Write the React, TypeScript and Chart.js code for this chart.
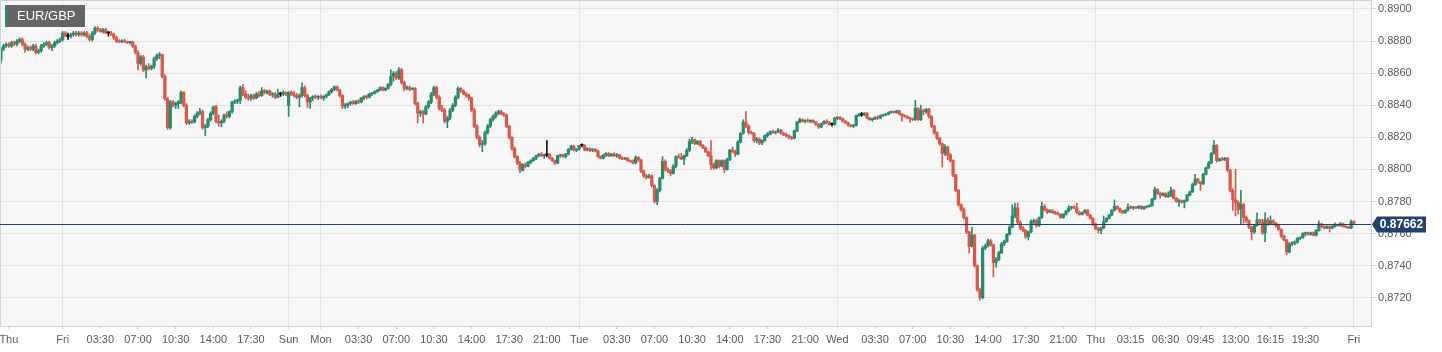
import React, { useEffect, useRef } from "react";
import { Chart, registerables } from "chart.js";

Chart.register(...registerables);

// Candles are 15-minute EUR/GBP bars, values in pips (price x 10000): [open, high, low, close]
type Ohlc = [number, number, number, number];
const PIP = 10000;

const thuFri: Ohlc[] = [
  [8868,8876,8866,8875],[8875,8878,8874,8877],[8877,8879,8876,8878],[8878,8879,8876,8877],[8877,8880,8876,8879],
  [8879,8880,8877,8878],[8878,8881,8877,8880],[8880,8882,8879,8881],[8881,8882,8877,8878],[8878,8879,8873,8875],
  [8875,8877,8874,8876],[8876,8877,8874,8875],[8875,8878,8874,8877],[8877,8878,8872,8873],[8873,8875,8872,8874],
  [8874,8878,8873,8877],[8877,8879,8876,8878],[8878,8880,8877,8879],[8879,8880,8875,8876],[8876,8878,8874,8877],
  [8877,8880,8876,8879],[8879,8881,8878,8880],[8880,8882,8879,8881],[8881,8886,8880,8885],[8885,8886,8883,8883],
  [8883,8885,8881,8883],[8883,8885,8882,8884],[8884,8886,8883,8885],[8885,8886,8883,8884],[8884,8886,8883,8885],
  [8885,8886,8883,8884],[8884,8886,8883,8885],[8885,8886,8882,8883],[8883,8884,8880,8881],[8881,8886,8880,8885],
  [8885,8889,8884,8888],[8888,8889,8886,8887],[8887,8888,8885.5,8886],[8886,8888,8885,8887],[8887,8888,8884.5,8885],
  [8885,8886,8883,8885],[8885,8886,8883.5,8884],[8884,8885,8881,8882],[8882,8883,8879,8880],[8880,8881,8879,8879.5],
  [8879.5,8881,8879,8880],[8880,8881,8879,8879.5],[8879.5,8880,8878.5,8879],[8879,8880,8878,8879.5],[8879.5,8880,8876,8877],
  [8877,8877.5,8872,8873],[8873,8874,8862,8866],[8866,8871,8865,8870],[8870,8871,8861,8862],[8862,8865,8857,8864],
  [8864,8866,8862,8863],[8863,8865,8862,8864.5],[8864.5,8870,8863,8869],[8869,8872,8868,8871],[8871,8873,8869,8871.5],
  [8871.5,8872,8857,8858],[8858,8859,8843,8844],[8844,8845,8825,8826],[8826,8843,8825,8842],[8842,8843,8839,8840],
  [8840,8842,8838,8841],[8841,8843,8838,8842],[8842,8849,8841,8848],[8848,8848.5,8839,8840],[8840,8841,8828,8829],
  [8829,8831,8828,8830],[8830,8831,8828.5,8829.5],[8829.5,8834,8829,8833],[8833,8836,8832,8835],[8835,8838,8834,8836],
  [8836,8837,8825,8826],[8826,8828,8821,8827],[8827,8832,8826,8831],[8831,8836,8830,8835],[8835,8839.5,8834,8839],
  [8839,8840,8829,8830],[8830,8834,8827,8829],[8829,8831,8826.5,8830],[8830,8834.5,8829,8834],[8834,8836,8832,8833],
  [8833,8836.5,8832,8836],[8836,8842.5,8835,8842],[8842,8843.5,8841,8842.5],[8842.5,8844,8841,8843],[8843,8852,8841,8851],
  [8851,8853,8846,8847],[8847,8849,8844,8845],[8845,8847,8843,8844.5],[8844.5,8847,8843,8846],[8846,8847,8843.5,8844.5],
  [8844.5,8848,8844,8847],[8847,8848.5,8845,8846],[8846,8851,8845.5,8849],[8849,8850,8847,8848],[8848,8849.5,8847,8849],
  [8849,8849.5,8846,8846.5],[8846.5,8848,8845,8847],[8847,8848,8844,8845],[8845,8850,8844.5,8847],[8847,8848,8845.5,8847],
  [8847,8849,8846,8848],[8848,8848.5,8846,8847],
];

const sunMon: Ohlc[] = [
  [8840,8848.5,8833,8848],[8848,8849,8846,8847],[8847,8848.5,8845,8846],[8846,8847.5,8844,8845],[8845,8847,8839,8846],
  [8846,8854,8845,8851],[8851,8852,8845,8846],[8846,8847,8838.5,8842],[8842,8845,8838,8844.5],[8844.5,8846,8843,8845.5],
  [8845.5,8846.5,8844,8845],[8845,8846,8843.5,8845.5],[8845.5,8846.5,8844,8844.5],[8844.5,8846,8843,8845.5],[8845.5,8847,8844.5,8846.5],
  [8846.5,8849,8846,8848.5],[8848.5,8850.5,8847.5,8850],[8850,8852,8849,8851.5],[8851.5,8852,8849,8849.5],[8849.5,8850,8845,8846],
  [8846,8846.5,8838,8839.5],[8839.5,8841,8838,8840],[8840,8841.5,8838.5,8841],[8841,8842.5,8840,8842],[8842,8843,8840.5,8841],
  [8841,8843,8840.5,8842.5],[8842.5,8843.5,8841,8842],[8842,8845,8841.5,8844.5],[8844.5,8846,8843.5,8845.5],[8845.5,8846.5,8844,8845],
  [8845,8847.5,8844.5,8847],[8847,8848,8846,8847.5],[8847.5,8849,8847,8848.5],[8848.5,8850,8848,8849.5],[8849.5,8851.5,8849,8851],
  [8851,8851.5,8849,8849.5],[8849.5,8851,8849,8850.5],[8850.5,8853.5,8850,8853],[8853,8862,8852,8858],[8858,8861,8855,8860],
  [8860,8861,8856,8857],[8857,8863.5,8856,8862],[8862,8863,8853,8854],[8854,8855,8849,8850.5],[8850.5,8852,8849.5,8851],
  [8851,8852,8849,8850],[8850,8851,8849.5,8850.5],[8850.5,8851,8840,8841],[8841,8842,8829,8835],[8835,8837,8833,8836],
  [8836,8837,8829,8834.5],[8834.5,8840,8834,8839],[8839,8843,8838,8842],[8842,8848,8841,8847],[8847,8852,8846,8851],
  [8851,8852,8844,8845],[8845,8846,8837,8838],[8838,8840,8836,8837],[8837,8838,8829,8830],[8830,8833,8826,8832],
  [8832,8838,8831,8837],[8837,8841,8836,8840],[8840,8846,8839,8845],[8845,8851.5,8844,8850.5],[8850.5,8851,8848,8849],
  [8849,8849.5,8846.5,8847],[8847,8848,8845,8846],[8846,8847,8843,8844.5],[8844.5,8845,8836,8837],[8837,8838,8826,8827],
  [8827,8828,8819,8820],[8820,8821,8814,8815.5],[8815.5,8818,8811,8816],[8816,8824,8815,8823],[8823,8828,8822,8827],
  [8827,8832,8826,8831],[8831,8834,8830,8833],[8833,8836,8832,8835],[8835,8837,8834,8836],[8836,8837,8834,8834.5],
  [8834.5,8835.5,8833,8834],[8834,8834.5,8826,8827],[8827,8827.5,8819,8820],[8820,8820.5,8812,8813],[8813,8814,8807,8808],
  [8808,8808.5,8803,8804],[8804,8805,8798,8799.5],[8799.5,8803.5,8799,8803],[8803,8804,8801,8802],[8802,8805,8801.5,8804.5],
  [8804.5,8806,8803.5,8805.5],[8805.5,8807.5,8805,8807],[8807,8809,8806,8808.5],[8808.5,8810,8808,8809.5],[8809.5,8810.5,8808,8808.5],
  [8808.5,8809.5,8807,8809],[8809,8818,8808,8809],[8809,8810,8806.5,8807],[8807,8807.5,8805,8805.5],[8805.5,8806,8803,8804],
  [8804,8809,8803.5,8808.5],[8808.5,8809.5,8807.5,8809],[8809,8809.5,8807.5,8808],[8808,8810,8807,8809.5],[8809.5,8813,8809,8812.5],
  [8812.5,8815,8812,8814.5],[8814.5,8815,8811.5,8812],[8812,8813,8811,8812.5],
];

const tue: Ohlc[] = [
  [8812.5,8815,8812,8815],[8815,8816,8814,8815],[8815,8815.5,8811.5,8812],[8812,8813.5,8811.5,8813],[8813,8813.5,8811,8812],
  [8812,8813,8811,8812.5],[8812.5,8813,8811,8811.5],[8811.5,8812,8807.5,8808],[8808,8808.5,8806.5,8807],[8807,8809.5,8806.5,8809],
  [8809,8810.5,8808,8810],[8810,8810.5,8808,8808.5],[8808.5,8810,8808,8809.5],[8809.5,8810.5,8808,8808.5],[8808.5,8810,8807.5,8809],
  [8809,8809.5,8806.5,8807],[8807,8808,8806,8806.5],[8806.5,8807.5,8806,8807],[8807,8807.5,8805,8805.5],[8805.5,8806,8804.5,8805],
  [8805,8806,8803.5,8804],[8804,8808.5,8803.5,8807.5],[8807.5,8808,8805,8806],[8806,8806.5,8798,8799],[8799,8799.5,8795,8796],
  [8796,8797,8794,8795],[8795,8797,8794.5,8796],[8796,8796.5,8789,8790],[8790,8790.5,8779,8780],[8780,8788,8778,8787],
  [8787,8795,8786,8794.5],[8794.5,8808,8794,8805],[8805,8806,8799,8800],[8800,8801,8798,8799],[8799,8800,8796,8797.5],
  [8797.5,8803,8797,8802],[8802,8808.5,8801,8808],[8808,8809.5,8807,8807.5],[8807.5,8810,8806,8806.5],[8806.5,8809,8803,8808.5],
  [8808.5,8813,8808,8812],[8812,8819,8811,8817.5],[8817.5,8820,8816,8818.5],[8818.5,8819,8815.5,8816],[8816,8818,8815.5,8817.5],
  [8817.5,8818,8814.5,8815],[8815,8815.5,8813,8813.5],[8813.5,8814,8810.5,8811],[8811,8811.5,8808,8808.5],[8808.5,8818,8800,8803],
  [8803,8804,8800,8801],[8801,8806,8800.5,8805.5],[8805.5,8806,8801,8802],[8802,8806,8801.5,8805.5],[8805.5,8806,8798,8800],
  [8800,8807,8799.5,8806],[8806,8812.5,8805.5,8812],[8812,8814,8810.5,8811],[8811,8812,8808,8809.5],[8809.5,8818,8809,8817],
  [8817,8823,8816.5,8822.5],[8822.5,8831,8822,8829.5],[8829.5,8836,8826,8827],[8827,8828,8822,8823],[8823,8824,8822,8822.5],
  [8822.5,8823,8817,8818],[8818,8820,8816.5,8819],[8819,8819.5,8815.5,8816.5],[8816.5,8818.5,8815.5,8818],[8818,8821.5,8817.5,8821],
  [8821,8823,8820,8822],[8822,8824,8821.5,8823.5],[8823.5,8824.5,8822.5,8823],[8823,8824,8822,8823.5],[8823.5,8825.5,8823,8824.5],
  [8824.5,8825,8822,8822.5],[8822.5,8823,8821,8821.5],[8821.5,8822.5,8820,8821],[8821,8821.5,8819,8820],[8820,8820.5,8818.5,8819.5],
  [8819.5,8824.5,8819,8824],[8824,8830,8823.5,8829.5],[8829.5,8832,8829,8831],[8831,8831.5,8829.5,8830],[8830,8831,8829,8830.5],
  [8830.5,8831.5,8829.5,8830],[8830,8831,8829,8830.5],[8830.5,8831,8829,8829.5],[8829.5,8830,8827.5,8828],[8828,8828.5,8825.5,8826.5],
  [8826.5,8829,8826,8828.5],[8828.5,8830.5,8828,8830],[8830,8831,8828.5,8829],[8829,8830,8827.5,8828],[8828,8829,8827,8828],
  [8828,8832.5,8827.5,8832],
];

const wed: Ohlc[] = [
  [8832,8833,8831,8832.5],[8832.5,8833,8831,8831.5],[8831.5,8832,8829.5,8830],[8830,8830.5,8828.5,8829],[8829,8829.5,8827,8827.5],
  [8827.5,8828,8826.5,8827],[8827,8828,8826,8827.5],[8827.5,8834,8827,8833.5],[8833.5,8835,8833,8834],[8834,8835.5,8833,8834],
  [8834,8835.5,8833.5,8835],[8835,8835.5,8831.5,8832],[8832,8832.5,8830.5,8831],[8831,8832,8830,8831.5],[8831.5,8833,8831,8832.5],
  [8832.5,8833.5,8831,8832],[8832,8834,8831.5,8833.5],[8833.5,8834.5,8833,8834],[8834,8835,8833.5,8834.5],[8834.5,8836,8834,8835.5],
  [8835.5,8836.5,8835,8836],[8836,8836.5,8835,8835.5],[8835.5,8837,8835,8836.5],[8836.5,8837,8834,8834.5],[8834.5,8835,8830,8833.5],
  [8833.5,8834,8832.5,8833],[8833,8833.5,8831.5,8832],[8832,8832.5,8829.5,8831.5],[8831.5,8832,8830.5,8831],[8831,8843,8830.5,8838],
  [8838,8838.5,8830.5,8831],[8831,8840,8830.5,8836.5],[8836.5,8837.5,8834,8836],[8836,8838,8835,8837.5],[8837.5,8838,8832,8833],
  [8833,8833.5,8826,8827],[8827,8827.5,8822,8823],[8823,8823.5,8818.5,8819.5],[8819.5,8820,8815,8816],[8816,8816.5,8801.5,8810],
  [8810,8815.5,8808.5,8814],[8814,8814.5,8806,8809],[8809,8810,8804.5,8805.5],[8805.5,8806,8795.5,8796.5],[8796.5,8797,8786,8787],
  [8787,8787.5,8777,8778],[8778,8778.5,8774,8775],[8775,8776,8769,8770],[8770,8770.5,8760,8761],[8761,8761.5,8748,8752],
  [8752,8764,8751.5,8759],[8759,8759.5,8739,8740],[8740,8740.5,8724,8725],[8725,8726,8718.5,8720],[8720,8752,8719.5,8751],
  [8751,8753.5,8750,8752.5],[8752.5,8756.5,8751.5,8755.5],[8755.5,8756.5,8752,8753],[8753,8753.5,8733,8742],[8742,8745,8739,8744],
  [8744,8749,8743,8748],[8748,8754.5,8747.5,8753.5],[8753.5,8756,8752.5,8755],[8755,8760,8754.5,8759.5],[8759.5,8765,8759,8764],
  [8764,8778,8763.5,8771],[8771,8779,8770,8776],[8776,8779,8766,8767],[8767,8768,8762.5,8763.5],[8763.5,8764.5,8761,8762],
  [8762,8762.5,8757,8758],[8758,8761.5,8756,8761],[8761,8768.5,8760.5,8767.5],[8767.5,8769,8766,8768],[8768,8769,8764,8765],
  [8765,8770.5,8764.5,8770],[8770,8779.5,8769.5,8777],[8777,8778,8774,8775],[8775,8775.5,8772.5,8773.5],[8773.5,8775,8773,8774],
  [8774,8775,8772.5,8773],[8773,8774,8772,8772.5],[8772.5,8773.5,8771.5,8772],[8772,8772.5,8769.5,8770],[8770,8772.5,8769.5,8772],
  [8772,8774.5,8771.5,8774],[8774,8777.5,8773.5,8776],[8776,8777,8775,8776.5],[8776.5,8777.5,8775.5,8776],[8776,8779,8772.5,8773],
  [8773,8774,8771.5,8772],[8772,8773.5,8771.5,8773],[8773,8775,8772.5,8774.5],[8774.5,8775,8771,8771.5],[8771.5,8772,8769,8769.5],
  [8769.5,8770,8765,8766],
];

const thu: Ohlc[] = [
  [8766,8766.5,8762.5,8763],[8763,8764,8760.5,8762],[8762,8764,8760,8763.5],[8763.5,8771,8763,8767.5],[8767.5,8770,8767,8769.5],
  [8769.5,8772,8769,8771.5],[8771.5,8775,8771,8774.5],[8774.5,8781,8774,8777],[8777,8777.5,8775,8775.5],[8775.5,8776,8773,8774],
  [8774,8774.5,8772.5,8773],[8773,8775,8772.5,8774.5],[8774.5,8778.5,8774,8776.5],[8776.5,8777.5,8775.5,8776],[8776,8777,8775,8776.5],
  [8776.5,8777,8775.5,8776],[8776,8777.5,8775.5,8777],[8777,8777.5,8775,8775.5],[8775.5,8777,8775,8776.5],[8776.5,8777.5,8776,8777],
  [8777,8778,8776.5,8777.5],[8777.5,8782,8777,8781.5],[8781.5,8789,8781,8787.5],[8787.5,8788,8784.5,8785],[8785,8786,8782,8784],
  [8784,8785.5,8783.5,8785],[8785,8785.5,8782.5,8783],[8783,8786,8782.5,8783.5],[8783.5,8789,8783,8787],[8787,8787.5,8781.5,8782],
  [8782,8782.5,8779.5,8780],[8780,8781.5,8777,8780.5],[8780.5,8781,8779,8779.5],[8779.5,8781,8776,8780.5],[8780.5,8784.5,8780,8784],
  [8784,8786.5,8783.5,8786],[8786,8791.5,8785.5,8790.5],[8790.5,8797,8790,8794],[8794,8794.5,8791.5,8792],[8792,8792.5,8787,8791],
  [8791,8797.5,8790.5,8797],[8797,8801.5,8796.5,8801],[8801,8805,8800.5,8804],[8804,8810.5,8803.5,8810],[8810,8818,8809.5,8815],
  [8815,8815.5,8804.5,8805.5],[8805.5,8807,8805,8806.5],[8806.5,8807.5,8805.5,8806],[8806,8807.5,8805.5,8807],[8807,8807.5,8798.5,8799.5],
  [8799.5,8800,8786,8787],[8787,8788,8774.5,8781],[8781,8800,8771,8779.5],[8779.5,8780.5,8772,8775],[8775,8787,8765.5,8778],
  [8778,8779,8766.5,8770],[8770,8771,8767,8768],[8768,8768.5,8763,8764],[8764,8764.5,8756,8761],[8761,8765.5,8760,8765],
  [8765,8773,8764.5,8768.5],[8768.5,8769,8766,8767],[8767,8769,8759.5,8760.5],[8760.5,8773,8755,8768.5],[8768.5,8770,8765,8766],
  [8766,8771,8765.5,8768],[8768,8768.5,8766,8766.5],[8766.5,8767,8764,8765],[8765,8765.5,8762,8762.5],[8762.5,8763,8757.5,8758.5],
  [8758.5,8759,8755.5,8756],[8756,8756.5,8747,8748.5],[8748.5,8754.5,8748,8753.5],[8753.5,8755,8752.5,8754],[8754,8755.5,8753,8754.5],
  [8754.5,8757.5,8754,8757],[8757,8758,8756,8757.5],[8757.5,8760.5,8757,8760],[8760,8761,8758.5,8760.5],[8760.5,8761,8759,8759.5],
  [8759.5,8761,8759,8760.5],[8760.5,8761,8758.5,8759],[8759,8762.5,8758.5,8762],[8762,8768,8761.5,8766],[8766,8766.5,8763.5,8764.5],
  [8764.5,8765,8763,8763.5],[8763.5,8765,8763,8764.5],[8764.5,8765,8761,8763.5],[8763.5,8765,8763,8764.5],[8764.5,8766.5,8764,8765.5],
  [8765.5,8766,8764.5,8765],[8765,8767,8764.5,8766],[8766,8766.5,8764,8764.5],[8764.5,8765,8763.5,8764],[8764,8764.5,8763,8763.5],
  [8763.5,8768.5,8763,8767.5],
];

const fri: Ohlc[] = [[8767.5,8768,8765.5,8766.2]];

const sessions: Ohlc[][] = [thuFri, sunMon, tue, wed, thu, fri];

// x-axis tick labels (candle index -> text)
const tickIdx = [3, 23, 37, 51, 65, 79, 93, 107, 119, 133, 147, 161, 175, 189, 203, 215, 229, 243, 257, 271, 285, 299, 311, 325, 339, 353, 367, 381, 395, 407, 420, 433, 446, 459, 472, 485, 503];
const tickText = ["Thu", "Fri", "03:30", "07:00", "10:30", "14:00", "17:30", "Sun", "Mon", "03:30", "07:00", "10:30", "14:00", "17:30", "21:00", "Tue", "03:30", "07:00", "10:30", "14:00", "17:30", "21:00", "Wed", "03:30", "07:00", "10:30", "14:00", "17:30", "21:00", "Thu", "03:15", "06:30", "09:45", "13:00", "16:15", "19:30", "Fri"];
const dayLineIdx = [23, 107, 119, 215, 311, 407, 503];
const yTicks = [0.872, 0.874, 0.876, 0.878, 0.88, 0.882, 0.884, 0.886, 0.888, 0.89];
const symbolName = "EUR/GBP";

const UP = "#2b8a6e";
const DOWN = "#d8584a";
const DOJI = "#111111";
const GRID = "#e4e4e4";
const BORDER = "#c9d3e2";
const TEXT = "#5a5a5a";
const NAVY = "#23426d";
const FONT = "'Liberation Sans', Arial, sans-serif";

export default function App() {
  const ref = useRef<HTMLCanvasElement | null>(null);

  useEffect(() => {
    if (!ref.current) return;
    const candles = sessions.flat();
    const bodies = candles.map((c, i) => ({ x: i, y: [c[0] / PIP, c[3] / PIP] }));
    const wicks = candles.map((c, i) => ({ x: i, y: [c[2] / PIP, c[1] / PIP] }));
    const colors = candles.map((c) => (c[3] > c[0] ? UP : c[3] < c[0] ? DOWN : DOJI));
    const lastClose = candles[candles.length - 1][3] / PIP;

    const bgPlugin = {
      id: "bgPlugin",
      beforeDraw(chart: any) {
        const { ctx, chartArea: a } = chart;
        ctx.save();
        ctx.fillStyle = "#f7f7f7";
        ctx.fillRect(a.left, a.top, a.right - a.left, a.bottom - a.top);
        ctx.restore();
      },
      afterDraw(chart: any) {
        const { ctx, chartArea: a } = chart;
        ctx.save();
        // left/top borders of plot
        ctx.strokeStyle = BORDER;
        ctx.lineWidth = 1;
        ctx.beginPath();
        ctx.moveTo(a.left + 0.5, a.bottom);
        ctx.lineTo(a.left + 0.5, a.top + 0.5);
        ctx.lineTo(a.right, a.top + 0.5);
        ctx.stroke();

        // current price line
        const y = Math.round(chart.scales.y.getPixelForValue(lastClose)) + 0.5;
        ctx.strokeStyle = NAVY;
        ctx.beginPath();
        ctx.moveTo(a.left, y);
        ctx.lineTo(a.right, y);
        ctx.stroke();

        // price tag
        const x0 = a.right;
        ctx.fillStyle = NAVY;
        ctx.beginPath();
        ctx.moveTo(x0 + 1, y);
        ctx.lineTo(x0 + 6, y - 8);
        ctx.lineTo(x0 + 55, y - 8);
        ctx.lineTo(x0 + 55, y + 8);
        ctx.lineTo(x0 + 6, y + 8);
        ctx.closePath();
        ctx.fill();
        ctx.fillStyle = "#ffffff";
        ctx.font = `bold 12px ${FONT}`;
        ctx.textAlign = "center";
        ctx.textBaseline = "middle";
        ctx.fillText(lastClose.toFixed(5), x0 + 30.5, y + 0.5);

        // symbol label
        ctx.fillStyle = "rgba(88,88,88,0.92)";
        ctx.fillRect(5, 5, 80, 22);
        ctx.fillStyle = UP;
        ctx.fillRect(5, 5, 2.5, 22);
        ctx.fillStyle = "#ffffff";
        ctx.font = `13px ${FONT}`;
        ctx.textAlign = "left";
        ctx.textBaseline = "middle";
        ctx.fillText(symbolName, 17, 16.5);
        ctx.restore();
      },
    };

    const chart = new Chart(ref.current, {
      type: "bar",
      data: {
        datasets: [
          {
            data: bodies as any,
            backgroundColor: colors,
            barThickness: 2.6,
            minBarLength: 1,
            grouped: false,
          } as any,
          {
            data: wicks as any,
            backgroundColor: colors,
            barThickness: 1,
            grouped: false,
          } as any,
        ],
      },
      options: {
        responsive: false,
        animation: false,
        devicePixelRatio: 1,
        events: [],
        layout: { padding: 0, autoPadding: false } as any,
        plugins: { legend: { display: false }, tooltip: { enabled: false } },
        scales: {
          x: {
            type: "linear",
            min: -0.3,
            max: 509.37,
            offset: false,
            grid: {
              offset: false,
              color: (ctx: any) => (ctx.tick && dayLineIdx.includes(ctx.tick.value) ? GRID : "rgba(0,0,0,0)"),
              tickColor: BORDER,
              tickLength: 3,
            },
            border: { display: true, color: BORDER },
            afterBuildTicks: (s: any) => {
              s.ticks = tickIdx.map((v) => ({ value: v }));
            },
            afterFit: (s: any) => {
              s.height = 26;
              s.paddingLeft = 0;
              s.paddingRight = 0;
            },
            ticks: {
              autoSkip: false,
              maxRotation: 0,
              minRotation: 0,
              padding: 4,
              color: TEXT,
              font: { family: FONT, size: 11 },
              callback: (v: any) => {
                const k = tickIdx.indexOf(Number(v));
                return k >= 0 ? tickText[k] : "";
              },
            },
          } as any,
          y: {
            type: "linear",
            position: "right",
            min: 0.87024,
            max: 0.89056,
            grid: { color: GRID, tickColor: BORDER, tickLength: 5 },
            border: { display: true, color: BORDER },
            afterBuildTicks: (s: any) => {
              s.ticks = yTicks.map((v) => ({ value: v }));
            },
            afterFit: (s: any) => {
              s.width = 71;
              s.paddingTop = 0;
              s.paddingBottom = 0;
            },
            ticks: {
              padding: 2,
              color: TEXT,
              font: { family: FONT, size: 11 },
              callback: (v: any) => Number(v).toFixed(4),
            },
          } as any,
        },
      },
      plugins: [bgPlugin],
    });

    return () => chart.destroy();
  }, []);

  return (
    <div style={{ position: "absolute", left: 0, top: 0, width: 1442, height: 352, background: "#ffffff" }}>
      <canvas ref={ref} width={1442} height={352} style={{ display: "block" }} />
    </div>
  );
}
